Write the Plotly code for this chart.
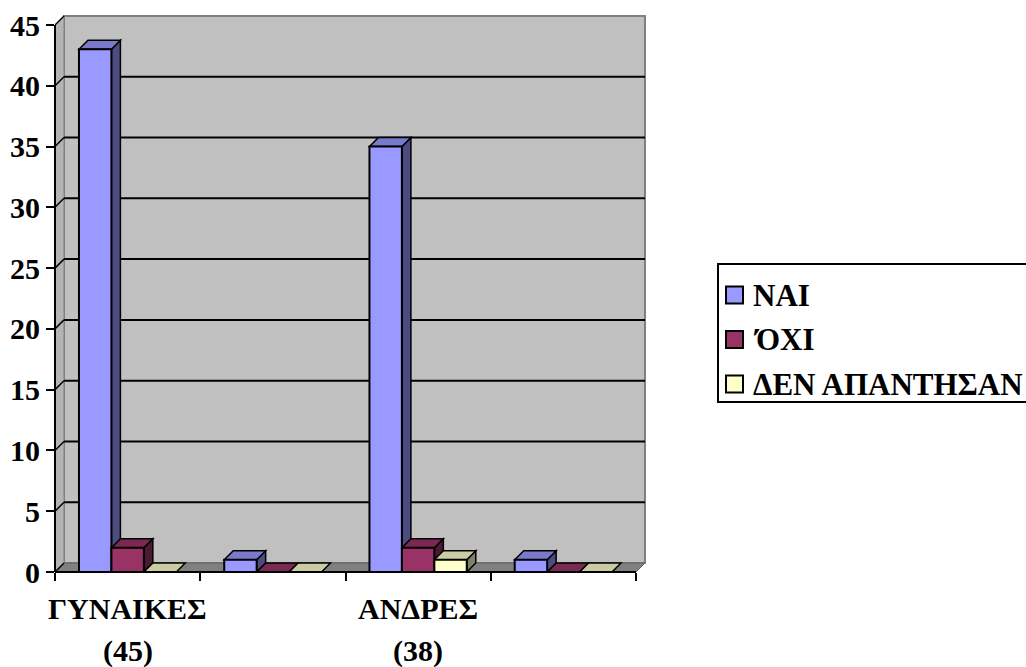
import plotly.graph_objects as go

# ---------------- data ----------------
category_lines = [["ΓΥΝΑΙΚΕΣ", "(45)"], ["", ""], ["ΑΝΔΡΕΣ", "(38)"], ["", ""]]
series_names = ["ΝΑΙ", "ΌΧΙ", "ΔΕΝ ΑΠΑΝΤΗΣΑΝ"]
nai = [43, 1, 35, 1]
oxi = [2, 0, 2, 0]
den = [0, 0, 1, 0]
y_tick_values = [0, 5, 10, 15, 20, 25, 30, 35, 40, 45]

series_values = [nai, oxi, den]

# ---------------- styling ----------------
front_colors = ["#9999FF", "#993366", "#FFFFCC"]
top_colors = ["#7A7ACC", "#7A2952", "#CCCCA3"]
side_colors = ["#4C4C80", "#4C1933", "#808066"]
FONT = "Liberation Serif, DejaVu Serif, serif"
AXIS_FONT_SIZE = 30
LEGEND_FONT_SIZE = 31

W, H = 1026, 667
ML, MR, MT, MB = 55, 378, 13, 95
PW, PH = W - ML - MR, H - MT - MB

n_cat = len(category_lines)
y_top = y_tick_values[-1]
X_PX = 581 / n_cat          # pixels per category on the front plane
Y_PX = 547 / y_top          # pixels per value unit
DEPTH_PX = 9                # oblique depth of the 3-D box
DX = DEPTH_PX / X_PX
DY = DEPTH_PX / Y_PX
x_max = PW / X_PX
y_max = PH / Y_PX

gap = 0.33
bar_w = (1 - gap) / len(series_values)
centers = [i + 0.5 for i in range(n_cat)]


def px_x(px):
    return (px - ML) / PW


def px_y(py):
    return (MT + PH - py) / PH


def poly(pts):
    return "M " + " L ".join(f"{x},{y}" for x, y in pts) + " Z"


def bold_font(size):
    return dict(family=FONT, size=size, color="black", weight="bold")


shapes = []

# back wall
shapes.append(dict(type="rect", xref="x", yref="y", layer="below",
                   x0=DX, x1=n_cat + DX, y0=DY, y1=y_top + DY,
                   fillcolor="#C0C0C0", line=dict(color="#808080", width=2)))
# left side wall
shapes.append(dict(type="path", xref="x", yref="y", layer="below",
                   path=poly([(0, 0), (0, y_top), (DX, y_top + DY), (DX, DY)]),
                   fillcolor="#B4B4B4", line=dict(color="#808080", width=1)))
# floor
shapes.append(dict(type="path", xref="x", yref="y", layer="below",
                   path=poly([(0, 0), (n_cat, 0), (n_cat + DX, DY), (DX, DY)]),
                   fillcolor="#808080", line=dict(color="#606060", width=1)))

# gridlines on the back wall and their connectors on the side wall
for v in y_tick_values:
    if 0 < v < y_top:
        shapes.append(dict(type="line", xref="x", yref="y", layer="below",
                           x0=DX, x1=n_cat + DX, y0=v + DY, y1=v + DY,
                           line=dict(color="black", width=2)))
    shapes.append(dict(type="line", xref="x", yref="y", layer="below",
                       x0=0, x1=DX, y0=v, y1=v + DY,
                       line=dict(color="black", width=1.5)))

# top and side faces of every bar, left to right
for ci, c in enumerate(centers):
    for si, vals in enumerate(series_values):
        v = vals[ci]
        left = c - 0.5 * (1 - gap) + si * bar_w
        right = left + bar_w
        if v > 0:
            shapes.append(dict(type="path", xref="x", yref="y", layer="below",
                               path=poly([(right, 0), (right, v), (right + DX, v + DY), (right + DX, DY)]),
                               fillcolor=side_colors[si], line=dict(color="black", width=1.5)))
        shapes.append(dict(type="path", xref="x", yref="y", layer="below",
                           path=poly([(left, v), (right, v), (right + DX, v + DY), (left + DX, v + DY)]),
                           fillcolor=top_colors[si], line=dict(color="black", width=1.5)))

# front axis lines
shapes.append(dict(type="line", xref="paper", yref="y", layer="above",
                   x0=0, x1=0, y0=0, y1=y_top, line=dict(color="black", width=2)))
shapes.append(dict(type="line", xref="x", yref="paper", layer="above",
                   x0=0, x1=n_cat, y0=0, y1=0, line=dict(color="black", width=2)))

fig = go.Figure()

# front faces of the bars
for si, (name, vals) in enumerate(zip(series_names, series_values)):
    fig.add_trace(go.Bar(
        x=centers, y=vals, name=name, width=bar_w,
        offset=-0.5 * (1 - gap) + si * bar_w,
        marker=dict(color=front_colors[si], line=dict(color="black", width=2)),
        showlegend=False, hoverinfo="x+y+name",
    ))

annotations = []

# category labels (two lines each)
for ci, lines in enumerate(category_lines):
    for li, txt in enumerate(lines):
        if txt:
            annotations.append(dict(
                x=centers[ci], xref="x", y=px_y(608 + li * 43), yref="paper",
                text=txt, showarrow=False, xanchor="center", yanchor="middle",
                font=bold_font(AXIS_FONT_SIZE),
            ))

# legend box
LEG_X0, LEG_X1, LEG_Y0, LEG_Y1 = 718, 1040, 264, 402
shapes.append(dict(type="rect", xref="paper", yref="paper",
                   x0=px_x(LEG_X0), x1=px_x(LEG_X1), y0=px_y(LEG_Y1), y1=px_y(LEG_Y0),
                   fillcolor="white", line=dict(color="black", width=2)))
for si, name in enumerate(series_names):
    cy = 295 + si * 44.5
    shapes.append(dict(type="rect", xref="paper", yref="paper",
                       x0=px_x(726), x1=px_x(743), y0=px_y(cy + 8.5), y1=px_y(cy - 8.5),
                       fillcolor=front_colors[si], line=dict(color="black", width=2)))
    annotations.append(dict(
        x=px_x(751), xref="paper", y=px_y(cy), yref="paper",
        text=name, showarrow=False, xanchor="left", yanchor="middle",
        font=bold_font(LEGEND_FONT_SIZE),
    ))

fig.update_layout(
    width=W, height=H,
    margin=dict(l=ML, r=MR, t=MT, b=MB, pad=0, autoexpand=False),
    paper_bgcolor="white", plot_bgcolor="white",
    barmode="overlay",
    font=dict(family=FONT),
    shapes=shapes, annotations=annotations,
    showlegend=False,
    xaxis=dict(range=[0, x_max], tickvals=list(range(n_cat + 1)),
               ticktext=[""] * (n_cat + 1), ticks="outside", ticklen=8,
               tickwidth=2, tickcolor="black", showgrid=False, zeroline=False,
               showline=False, fixedrange=True),
    yaxis=dict(range=[0, y_max], tickvals=y_tick_values,
               ticktext=[str(v) for v in y_tick_values], ticks="outside",
               ticklen=8, tickwidth=2, tickcolor="black", showgrid=False,
               zeroline=False, showline=False, fixedrange=True,
               tickfont=bold_font(AXIS_FONT_SIZE)),
)

fig.write_html("out.html")
